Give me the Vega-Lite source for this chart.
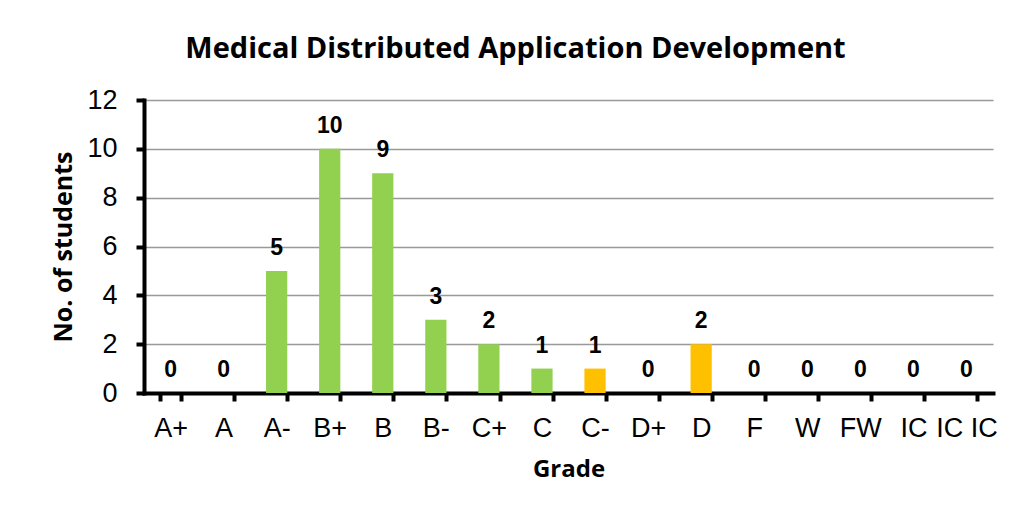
{
  "$schema": "https://vega.github.io/schema/vega-lite/v6.json",
  "width": 849,
  "height": 293,
  "autosize": {"type": "none"},
  "padding": {"left": 144, "top": 100, "right": 20, "bottom": 120},
  "background": "white",
  "title": {
    "text": "Medical Distributed Application Development",
    "font": "Open Sans",
    "fontSize": 29,
    "fontWeight": "bold",
    "color": "black",
    "anchor": "middle",
    "frame": "group",
    "baseline": "alphabetic",
    "dx": -53,
    "offset": -1
  },
  "data": {
    "values": [
      {"grade": "A+", "students": 0, "status": "ok"},
      {"grade": "A", "students": 0, "status": "ok"},
      {"grade": "A-", "students": 5, "status": "ok"},
      {"grade": "B+", "students": 10, "status": "ok"},
      {"grade": "B", "students": 9, "status": "ok"},
      {"grade": "B-", "students": 3, "status": "ok"},
      {"grade": "C+", "students": 2, "status": "ok"},
      {"grade": "C", "students": 1, "status": "ok"},
      {"grade": "C-", "students": 1, "status": "low"},
      {"grade": "D+", "students": 0, "status": "low"},
      {"grade": "D", "students": 2, "status": "low"},
      {"grade": "F", "students": 0, "status": "fail"},
      {"grade": "W", "students": 0, "status": "fail"},
      {"grade": "FW", "students": 0, "status": "fail"},
      {"grade": "IC", "students": 0, "status": "fail"},
      {"grade": "IC IC", "students": 0, "status": "fail"}
    ]
  },
  "encoding": {
    "x": {
      "field": "grade",
      "type": "nominal",
      "sort": null,
      "scale": {"paddingInner": 0.6, "paddingOuter": 0.3},
      "axis": {
        "title": "Grade",
        "titleFont": "Open Sans",
        "titleFontSize": 24,
        "titleFontWeight": "bold",
        "titleColor": "black",
        "titlePadding": 16,
        "labelFont": "Liberation Sans",
        "labelFontSize": 27,
        "labelColor": "black",
        "labelAngle": 0,
        "labelPadding": 14,
        "tickBand": "extent",
        "tickSize": 8,
        "tickWidth": 4,
        "tickColor": "black",
        "domainColor": "black",
        "domainWidth": 4,
        "domainCap": "square",
        "grid": false
      }
    },
    "y": {
      "field": "students",
      "type": "quantitative",
      "scale": {"domain": [0, 12], "nice": false},
      "axis": {
        "title": "No. of students",
        "titleFont": "Open Sans",
        "titleFontSize": 25,
        "titleFontWeight": "bold",
        "titleColor": "black",
        "titlePadding": 10,
        "labelFont": "Liberation Sans",
        "labelFontSize": 27,
        "labelColor": "black",
        "labelPadding": 19,
        "values": [0, 2, 4, 6, 8, 10, 12],
        "tickSize": 8,
        "tickWidth": 4,
        "tickColor": "black",
        "domainColor": "black",
        "domainWidth": 4,
        "domainCap": "square",
        "grid": true,
        "gridColor": "#999999",
        "gridWidth": 1.5
      }
    }
  },
  "layer": [
    {
      "mark": {"type": "bar"},
      "encoding": {
        "color": {
          "field": "status",
          "type": "nominal",
          "scale": {"domain": ["ok", "low", "fail"], "range": ["#92D050", "#FFC000", "#C00000"]},
          "legend": null
        }
      }
    },
    {
      "mark": {
        "type": "text",
        "font": "Liberation Sans",
        "fontSize": 23,
        "fontWeight": "bold",
        "color": "black",
        "baseline": "alphabetic",
        "dy": -16
      },
      "encoding": {"text": {"field": "students", "type": "quantitative"}}
    }
  ],
  "config": {"view": {"stroke": null}}
}
